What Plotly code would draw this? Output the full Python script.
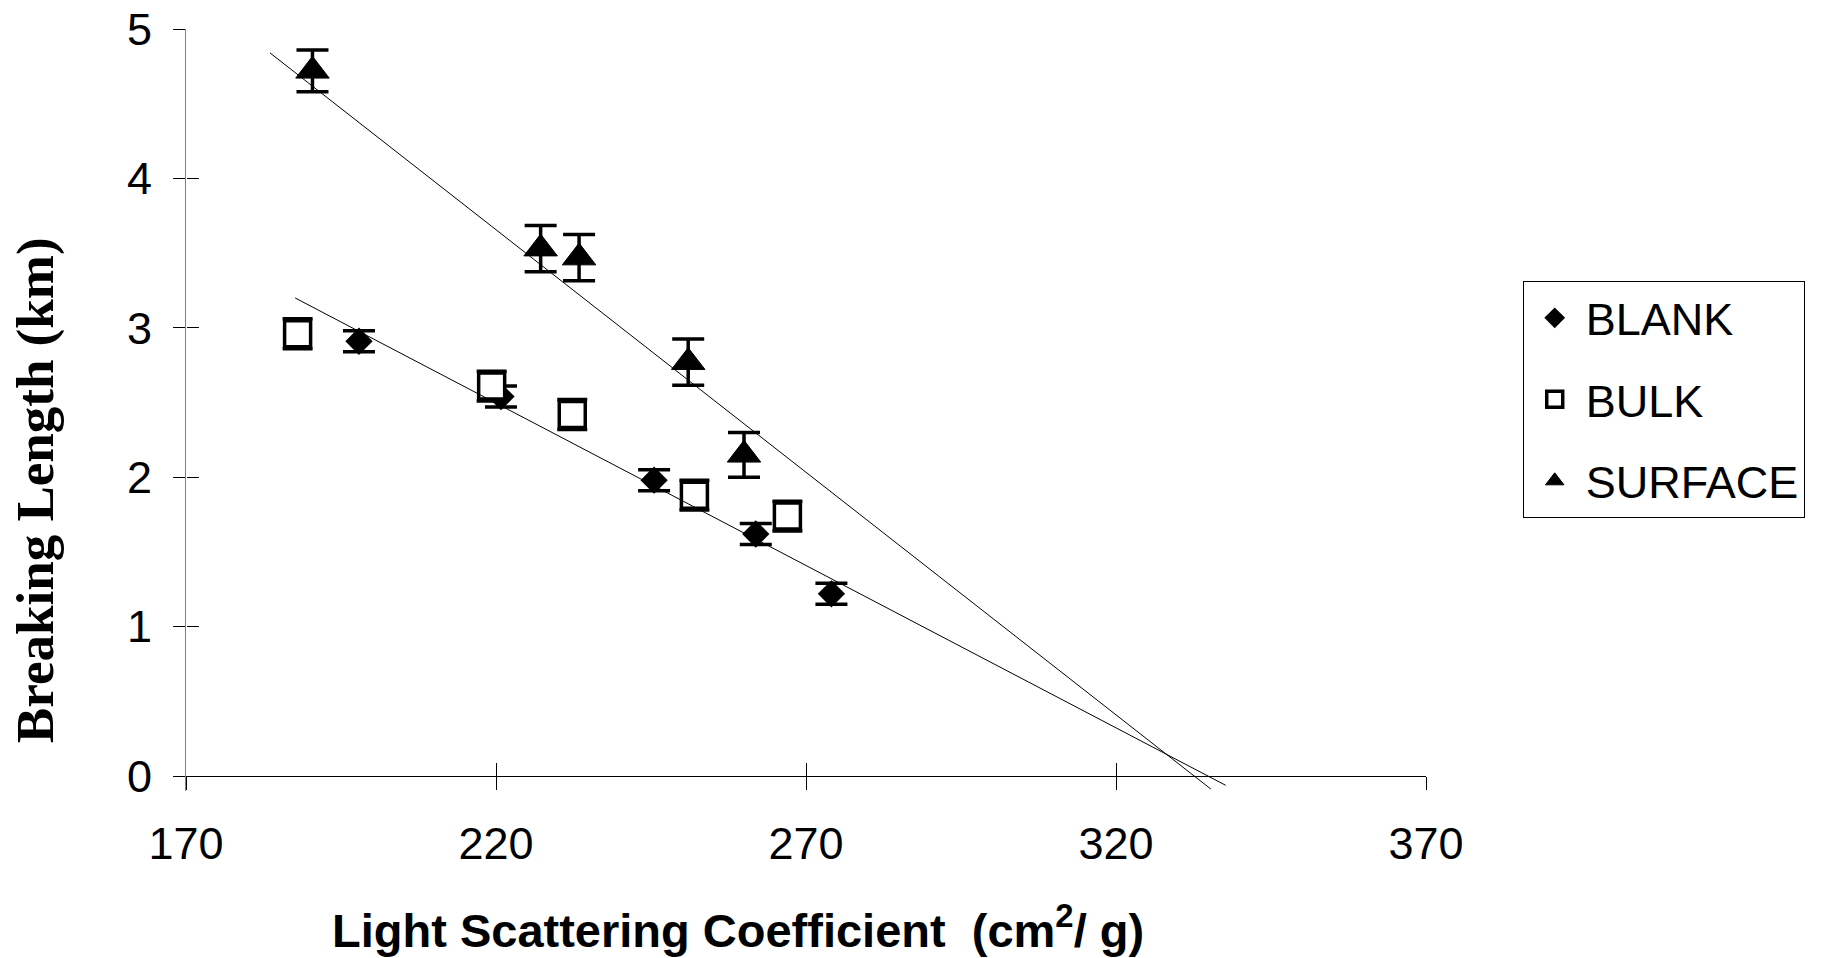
import plotly.graph_objects as go

# ---- data ----
blank_x = [197.9, 220.8, 245.5, 261.9, 274.1]
blank_y = [2.91, 2.54, 1.98, 1.62, 1.22]
blank_err = [0.07, 0.07, 0.07, 0.07, 0.07]

bulk_x = [188.0, 219.3, 232.3, 252.0, 267.0]
bulk_y = [2.96, 2.61, 2.42, 1.88, 1.74]
bulk_err = [0.10, 0.10, 0.10, 0.10, 0.10]

surface_x = [190.4, 227.2, 233.4, 251.0, 260.0]
surface_y = [4.72, 3.53, 3.47, 2.77, 2.15]
surface_err = [0.14, 0.155, 0.155, 0.155, 0.15]

# trendline end points
blank_fit_x = [187.6, 337.7]
blank_fit_y = [3.20, -0.062]
surface_fit_x = [183.55, 335.3]
surface_fit_y = [4.84, -0.087]

x_ticks = [170, 220, 270, 320, 370]
y_ticks = [0, 1, 2, 3, 4, 5]
x_range = [170, 370]
y_range = [-0.1, 5]

x_axis_pos = (0 - y_range[0]) / (y_range[1] - y_range[0])

ARIAL = "Liberation Sans, Arial, sans-serif"
TIMES = "Liberation Serif, Times New Roman, serif"

fig = go.Figure()

fig.add_trace(go.Scatter(
    x=blank_x, y=blank_y, mode="markers", name="BLANK", legendgroup="a",
    marker=dict(symbol="diamond", size=21, color="black", line=dict(width=0)),
    error_y=dict(type="data", array=blank_err, visible=True, color="black", thickness=3.5, width=16),
))
fig.add_trace(go.Scatter(
    x=bulk_x, y=bulk_y, mode="markers", name="BULK", legendgroup="b",
    marker=dict(symbol="square", size=26, color="white", line=dict(width=3.5, color="black")),
    error_y=dict(type="data", array=bulk_err, visible=True, color="black", thickness=3.5, width=15),
))
fig.add_trace(go.Scatter(
    x=surface_x, y=surface_y, mode="markers", name="SURFACE", legendgroup="c",
    marker=dict(symbol="triangle-up", size=29, color="black", line=dict(width=1, color="black")),
    error_y=dict(type="data", array=surface_err, visible=True, color="black", thickness=3.5, width=16),
))

fig.add_trace(go.Scatter(
    x=blank_fit_x, y=blank_fit_y, mode="lines", showlegend=False,
    line=dict(color="black", width=1), xaxis="x2", yaxis="y2", hoverinfo="skip",
))
fig.add_trace(go.Scatter(
    x=surface_fit_x, y=surface_fit_y, mode="lines", showlegend=False,
    line=dict(color="black", width=1), xaxis="x2", yaxis="y2", hoverinfo="skip",
))

axis_common = dict(showgrid=False, zeroline=False, automargin=False)

fig.update_layout(
    width=1825, height=958,
    margin=dict(l=186, r=399, t=29, b=167, autoexpand=False),
    paper_bgcolor="white", plot_bgcolor="white",
    showlegend=True,
    xaxis=dict(
        range=x_range, tickmode="array", tickvals=x_ticks,
        anchor="free", position=x_axis_pos,
        showline=True, linecolor="black", linewidth=1,
        ticks="outside", ticklen=13, tickcolor="black", tickwidth=1,
        tickfont=dict(family=ARIAL, size=45, color="black"),
        ticklabelstandoff=15,
        **axis_common,
    ),
    yaxis=dict(
        range=y_range, tickmode="array", tickvals=y_ticks,
        showline=True, linecolor="#808080", linewidth=1,
        ticks="outside", ticklen=12, tickcolor="black", tickwidth=1,
        tickfont=dict(family=ARIAL, size=45, color="black"),
        ticklabelstandoff=12,
        **axis_common,
    ),
    xaxis2=dict(
        range=x_range, tickmode="array", tickvals=x_ticks, overlaying="x",
        anchor="free", position=x_axis_pos,
        showline=False, ticks="inside", ticklen=13, tickcolor="black", tickwidth=1,
        showticklabels=False, **axis_common,
    ),
    yaxis2=dict(
        range=y_range, tickmode="array", tickvals=y_ticks, overlaying="y",
        anchor="free", position=0, side="left",
        showline=False, ticks="inside", ticklen=12, tickcolor="black", tickwidth=1,
        showticklabels=False, **axis_common,
    ),
    legend=dict(
        x=1.078, y=0.6692, xanchor="left", yanchor="top",
        bgcolor="white", bordercolor="black", borderwidth=1,
        font=dict(family=ARIAL, size=45, color="black"),
        itemwidth=52, tracegroupgap=20, traceorder="grouped",
    ),
    annotations=[
        dict(
            text="<b>Light Scattering Coefficient \u00a0(cm<sup>2</sup>/ g)</b>",
            xref="paper", yref="paper", x=0.445, y=-0.178,
            xanchor="center", yanchor="middle", showarrow=False,
            font=dict(family=ARIAL, size=47, color="black"),
        ),
        dict(
            text="<b>Breaking Length (km)</b>",
            xref="paper", yref="paper", x=-0.1218, y=0.395,
            xanchor="center", yanchor="middle", showarrow=False, textangle=-90,
            font=dict(family=TIMES, size=53, color="black"),
        ),
    ],
)

fig.write_html(
    "out.html",
    config={"displayModeBar": False},
    post_script="document.body.style.margin='0';document.body.style.overflow='hidden';",
)
